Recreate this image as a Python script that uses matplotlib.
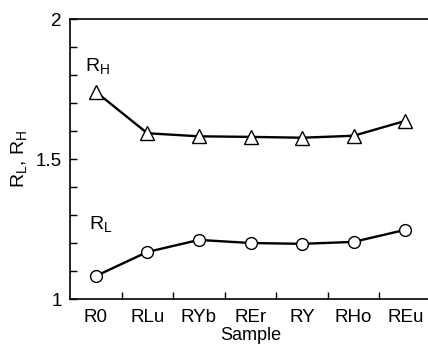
import numpy as np
import matplotlib.pyplot as plt
from matplotlib.ticker import MultipleLocator, FixedLocator

plt.rcParams['font.family'] = ['Liberation Sans', 'DejaVu Sans']

SAMPLES = ["R0", "RLu", "RYb", "REr", "RY", "RHo", "REu"]
R_H = [1.74, 1.592, 1.581, 1.579, 1.576, 1.583, 1.636]
R_L = [1.082, 1.168, 1.211, 1.200, 1.197, 1.204, 1.247]


def main():
    fig = plt.figure(figsize=(4.28, 3.46), dpi=100)
    ax = fig.add_axes([70 / 428, 47 / 346, 361 / 428, 280 / 346])
    x = np.arange(len(SAMPLES))

    ax.plot(x, R_H, '-^', color='black', lw=1.7, ms=10, mfc='white', mec='black', mew=1.0)
    ax.plot(x, R_L, '-o', color='black', lw=1.7, ms=8.5, mfc='white', mec='black', mew=1.0)

    ax.text(-0.2, 1.83, r"R$_\mathregular{H}$", fontsize=14, va='center')
    ax.text(-0.13, 1.265, r"R$_\mathregular{L}$", fontsize=14, va='center')

    ax.set_xlim(-0.5, 6.5)
    ax.set_ylim(1, 2)
    ax.set_xticks(x)
    ax.set_xticklabels(SAMPLES)
    ax.xaxis.set_minor_locator(FixedLocator(np.arange(0.5, 6, 1)))
    ax.set_yticks([1, 1.5, 2])
    ax.set_yticklabels(["1", "1.5", "2"])
    ax.yaxis.set_minor_locator(MultipleLocator(0.1))

    ax.tick_params(axis='x', which='major', length=0, pad=7, labelsize=13.5)
    ax.tick_params(axis='x', which='minor', direction='in', length=5, width=1)
    ax.tick_params(axis='y', which='both', direction='in', length=5, width=1, labelsize=13.5, pad=6)
    ax.spines['right'].set_visible(False)
    for s in ax.spines.values():
        s.set_linewidth(1.2)

    ax.set_xlabel("Sample", fontsize=13, labelpad=1)
    ax.set_ylabel(r"R$_\mathregular{L}$, R$_\mathregular{H}$", fontsize=14, labelpad=4)

    fig.savefig("out.png", dpi=100)


if __name__ == "__main__":
    main()
